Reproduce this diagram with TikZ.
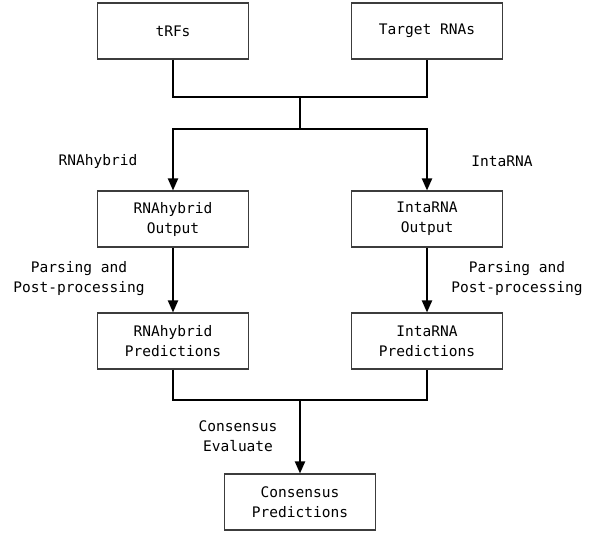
\documentclass[tikz,border=0pt]{standalone}
\usepackage{fontspec}
\setmonofont{DejaVu Sans Mono}
\usepackage{tikz}
\usetikzlibrary{arrows.meta}
\definecolor{box_gray}{RGB}{60,60,60}

\begin{document}
\begin{tikzpicture}[x=0.75pt,y=-0.75pt,line width=1.5pt,>={Triangle[length=9pt,width=7.5pt]}]
    \tikzstyle{label}=[text=black,align=center,font=\ttfamily\fontsize{10.9}{15}\selectfont]
    \tikzstyle{stage}=[style=label,draw=box_gray,line width=0.8pt,rectangle,minimum width=113pt,minimum height=42pt,inner sep=0pt]
    \useasboundingbox (0,0) rectangle (596,538);
    % boxes
    \node[stage] (trfs)   at (173,31)  {tRFs};
    \node[stage] (target) at (427,31)  {Target RNAs};
    \node[stage] (rhout)  at (173,219) {RNAhybrid\\Output};
    \node[stage] (iaout)  at (427,219) {IntaRNA\\Output};
    \node[stage] (rhpred) at (173,341) {RNAhybrid\\Predictions};
    \node[stage] (iapred) at (427,341) {IntaRNA\\Predictions};
    \node[stage] (cons)   at (300,502) {Consensus\\Predictions};
    % junctions
    \coordinate (join1)  at (300,97);
    \coordinate (split1) at (300,129);
    \coordinate (join2)  at (300,400);
    % edge labels
    \node[label] (rhlab) at (98,161)  {RNAhybrid};
    \node[label] (ialab) at (502,161) {IntaRNA};
    \node[label] (pplft) at (79,279)  {Parsing and\\Post-processing};
    \node[label] (pprgt) at (517,279) {Parsing and\\Post-processing};
    \node[label] (cslab) at (238,436) {Consensus\\Evaluate};

    \draw (trfs) |- (join1) -| (target);
    \draw (join1) -- (split1);
    \draw[->] (split1) -| (rhout);
    \draw[->] (split1) -| (iaout);
    \draw[->] (rhout) -- (rhpred);
    \draw[->] (iaout) -- (iapred);
    \draw (rhpred) |- (join2) -| (iapred);
    \draw[->] (join2) -- (cons);
\end{tikzpicture}
\end{document}
